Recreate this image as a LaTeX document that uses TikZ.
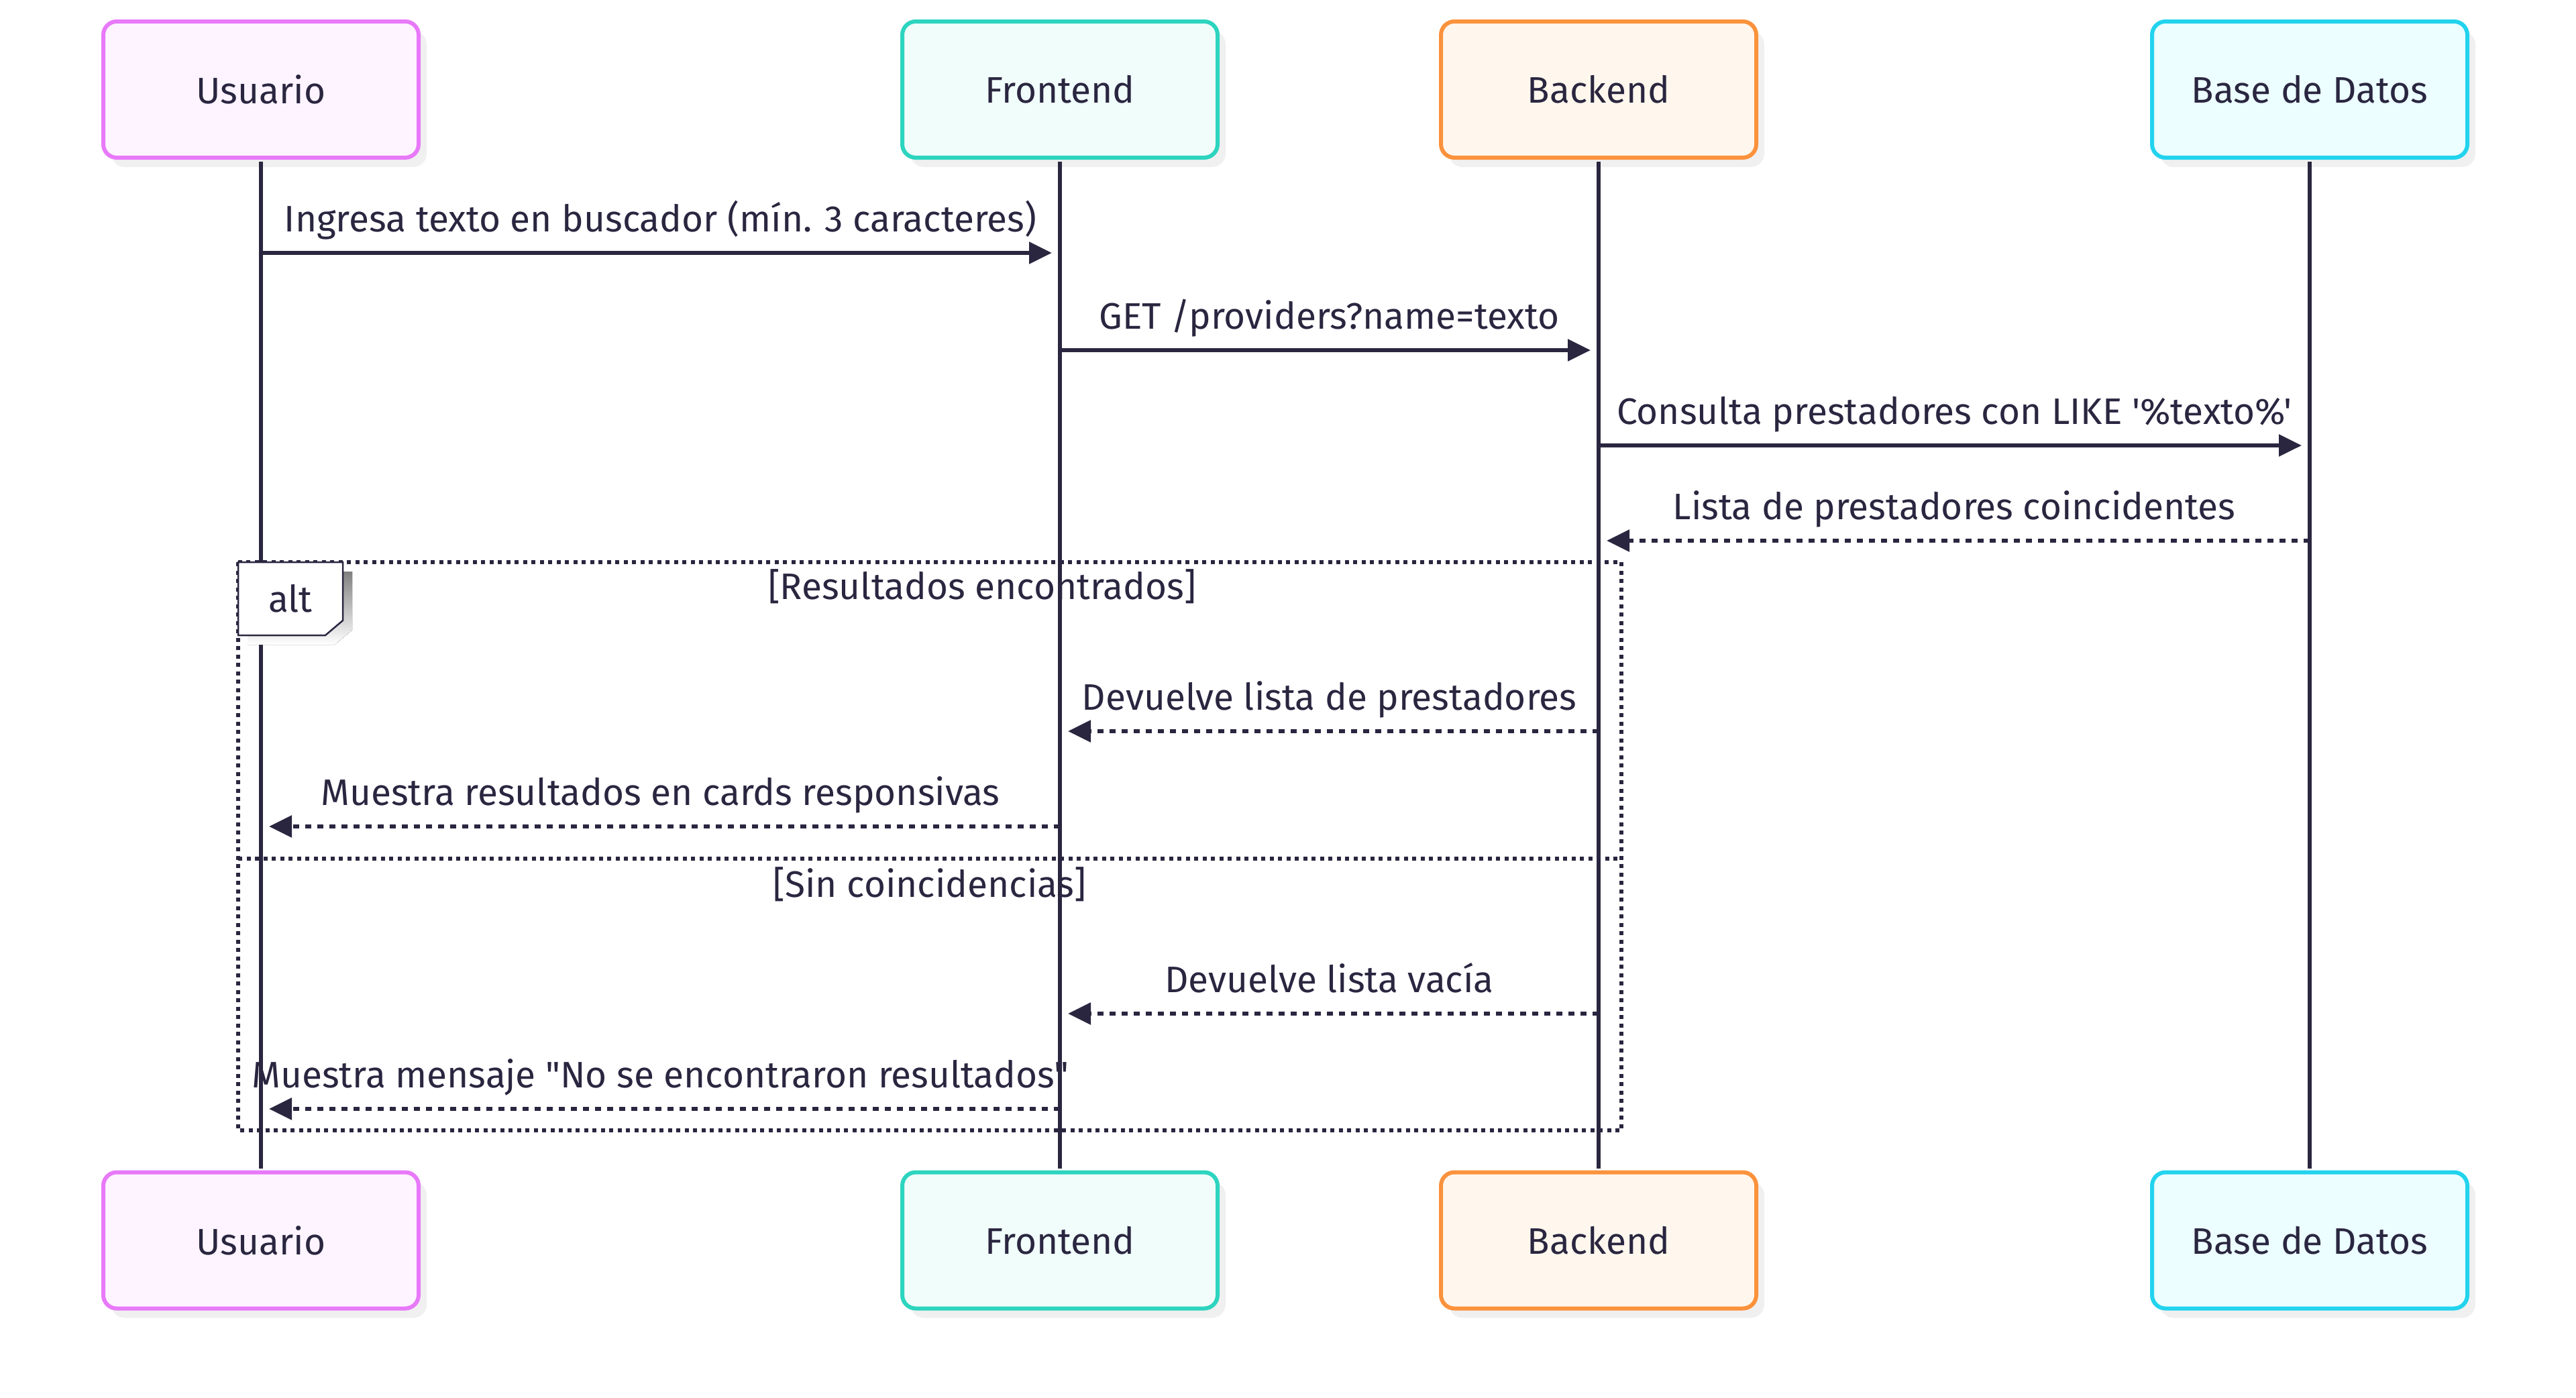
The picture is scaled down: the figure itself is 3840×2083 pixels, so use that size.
\documentclass[tikz,border=0pt]{standalone}
\usepackage{fontspec}
\setmainfont{Fira Sans}[Ligatures=TeXOff]
\usetikzlibrary{arrows.meta,shadows}

\definecolor{ink}{HTML}{2A2640}
\definecolor{shade}{HTML}{F0F0F0}
\definecolor{uline}{HTML}{E879F9}
\definecolor{ufill}{HTML}{FDF4FF}
\definecolor{fline}{HTML}{2DD4BF}
\definecolor{ffill}{HTML}{F0FDFA}
\definecolor{bline}{HTML}{FB923C}
\definecolor{bfill}{HTML}{FFF7ED}
\definecolor{dline}{HTML}{22D3EE}
\definecolor{dfill}{HTML}{ECFEFF}

\tikzset{
	actor/.style 2 args={draw=#1, fill=#2, rounded corners=20pt, line width=6pt,
		minimum width=470pt, minimum height=203pt, text=ink,
		drop shadow={shadow xshift=12pt, shadow yshift=-14pt, fill=shade, opacity=1}},
	lifeline/.style={draw=ink, line width=5.5pt, shorten <=3pt, shorten >=3pt},
	msg/.style={draw=ink, line width=5.5pt, shorten >=12pt,
		-{Triangle[length=34pt, width=32pt]}},
	reply/.style={msg, dash pattern=on 9pt off 9pt},
	msglabel/.style={anchor=base, yshift=32pt, text=ink, inner sep=0pt},
	frame/.style={draw=ink, line width=5.5pt, dash pattern=on 6pt off 6.5pt},
	seclabel/.style={anchor=base, text=ink, inner sep=0pt}
}

\begin{document}
\begin{tikzpicture}[x=1pt, y=-1pt, font=\fontsize{55}{64}\selectfont]
	\useasboundingbox (0,0) rectangle (3840,2083);
	\node[actor={uline}{ufill}] (uTop) at (389,133.5) {Usuario};
	\node[actor={fline}{ffill}] (fTop) at (1580,133.5) {Frontend};
	\node[actor={bline}{bfill}] (bTop) at (2383,133.5) {Backend};
	\node[actor={dline}{dfill}] (dTop) at (3443,133.5) {Base de Datos};
	\node[actor={uline}{ufill}] (uBot) at (389,1849) {Usuario};
	\node[actor={fline}{ffill}] (fBot) at (1580,1849) {Frontend};
	\node[actor={bline}{bfill}] (bBot) at (2383,1849) {Backend};
	\node[actor={dline}{dfill}] (dBot) at (3443,1849) {Base de Datos};

	\draw[lifeline] (uTop) -- (uBot);
	\draw[lifeline] (fTop) -- (fBot);
	\draw[lifeline] (bTop) -- (bBot);
	\draw[lifeline] (dTop) -- (dBot);

	\coordinate (altNW) at (355,838);
	\coordinate (altSE) at (2417,1685);
	\draw[frame] (altNW) rectangle (altSE);
	\draw[frame] (altNW |- 0,1280) -- (altSE |- 0,1280);
	\fill[shade] (369,852) -- (525,852) -- (525,939) -- (499,961) -- (369,961) -- cycle;
	\draw[ink, fill=white, line width=2.5pt] (355,838) -- (511,838) -- (511,925) -- (485,947) -- (355,947) -- cycle;
	\node[text=ink] (altTag) at (433,892.5) {alt};
	\node[seclabel] (secOk) at (1464,893) {[Resultados encontrados]};
	\node[seclabel] (secNone) at (1386,1337) {[Sin coincidencias]};

	\draw[msg] (uTop |- 0,377) -- node[msglabel] {Ingresa texto en buscador (mín. 3 caracteres)} (fTop |- 0,377);
	\draw[msg] (fTop |- 0,522) -- node[msglabel] {GET /providers?name=texto} (bTop |- 0,522);
	\draw[msg] (bTop |- 0,664) -- node[msglabel] {Consulta prestadores con LIKE '\%texto\%'} (dTop |- 0,664);
	\draw[reply] (dTop |- 0,806) -- node[msglabel] {Lista de prestadores coincidentes} (bTop |- 0,806);
	\draw[reply] (bTop |- 0,1090) -- node[msglabel] {Devuelve lista de prestadores} (fTop |- 0,1090);
	\draw[reply] (fTop |- 0,1232) -- node[msglabel] {Muestra resultados en cards responsivas} (uTop |- 0,1232);
	\draw[reply] (bTop |- 0,1511) -- node[msglabel] {Devuelve lista vacía} (fTop |- 0,1511);
	\draw[reply] (fTop |- 0,1653) -- node[msglabel] {Muestra mensaje "No se encontraron resultados"} (uTop |- 0,1653);
\end{tikzpicture}
\end{document}
